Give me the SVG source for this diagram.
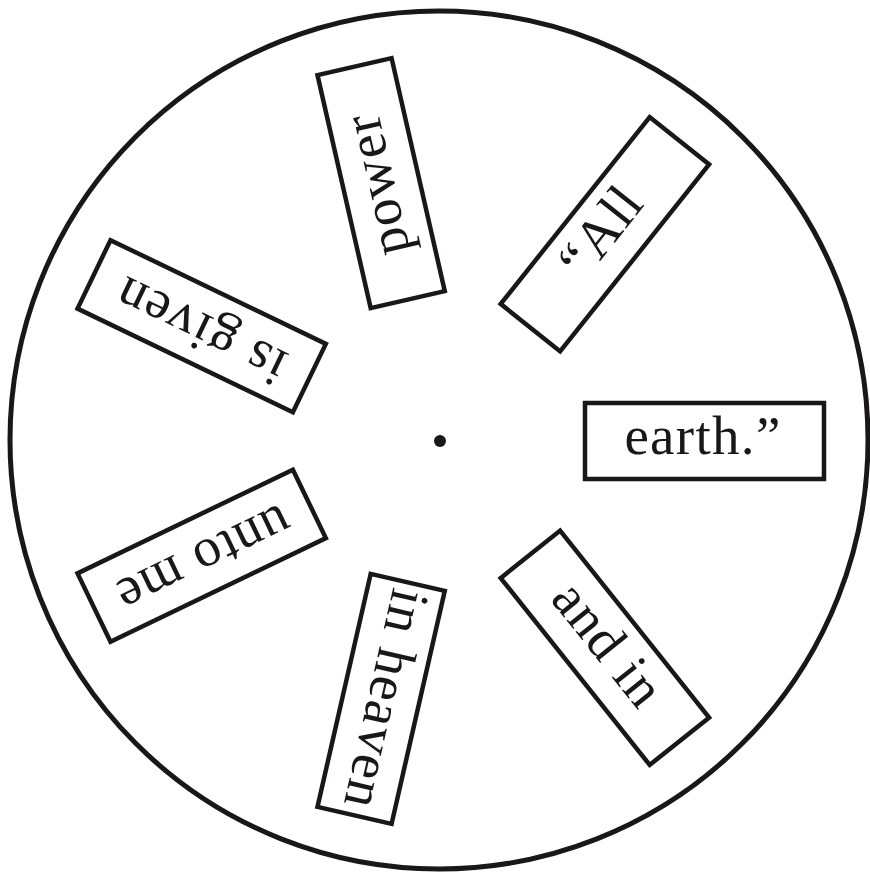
<svg xmlns="http://www.w3.org/2000/svg" width="870" height="875" viewBox="0 0 870 875">
<style>
.box{fill:#fff;stroke:#1a1718;stroke-width:4.5}
.lbl{font-family:"Liberation Serif","Times New Roman",serif;font-size:55px;fill:#1a1718;text-anchor:middle;letter-spacing:1.3px}
</style>
<rect width="870" height="875" fill="#fff"/>
<g id="wheel">
<circle cx="439" cy="440" r="429" fill="none" stroke="#1a1718" stroke-width="5"/>
<circle cx="440" cy="441" r="6" fill="#1a1718"/>
</g>
<g transform="translate(440,441)">
<g id="node-earth" transform="rotate(0)"><rect class="box" x="145" y="-38" width="239" height="76"/><text class="lbl" x="263" y="13">earth.”</text></g>
<g id="node-all" transform="rotate(-51.43)"><rect class="box" x="145" y="-38" width="239" height="76"/><text class="lbl" x="264" y="13">“All</text></g>
<g id="node-power" transform="rotate(-102.86)"><rect class="box" x="145" y="-38" width="239" height="76"/><text class="lbl" x="264" y="13">power</text></g>
<g id="node-isgiven" transform="rotate(-154.29)"><rect class="box" x="145" y="-38" width="239" height="76"/><text class="lbl" x="264" y="13">is given</text></g>
<g id="node-untome" transform="rotate(154.29)"><rect class="box" x="145" y="-38" width="239" height="76"/><text class="lbl" x="264" y="13">unto me</text></g>
<g id="node-inheaven" transform="rotate(102.86)"><rect class="box" x="145" y="-38" width="239" height="76"/><text class="lbl" x="264" y="13">in heaven</text></g>
<g id="node-andin" transform="rotate(51.43)"><rect class="box" x="145" y="-38" width="239" height="76"/><text class="lbl" x="264" y="13">and in</text></g>
</g>
<g id="connectors"/>
</svg>
